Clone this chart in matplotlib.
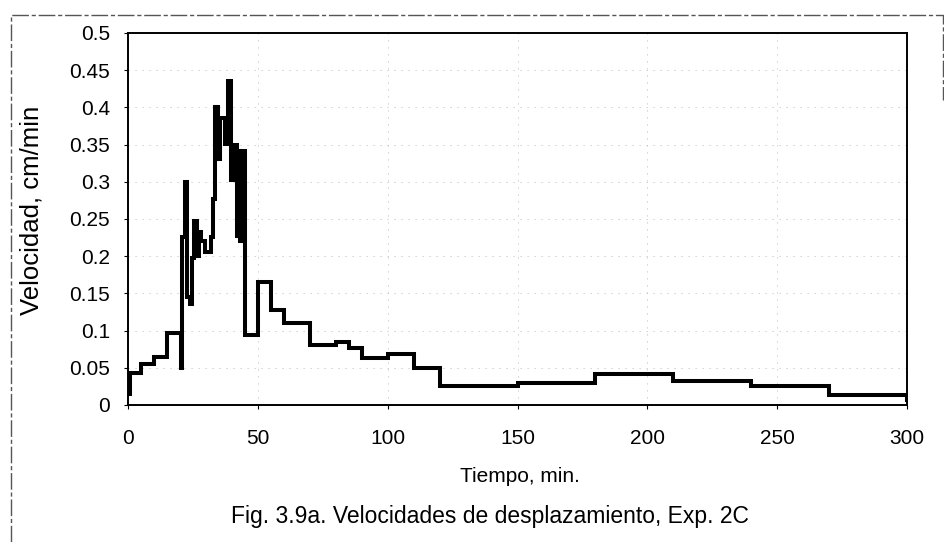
import matplotlib
matplotlib.use("Agg")
import matplotlib.pyplot as plt
from matplotlib.lines import Line2D

# Displacement velocity record, step-wise (value holds until the next time)
tiempo = [0, 0.7, 5, 10, 15, 20.3, 20.8, 21.8, 22.8, 23.8, 24.7, 25.6, 26.4,
          27.3, 28.3, 29.5, 31.8, 32.6, 33.4, 33.9, 34.3, 34.8, 35.3, 37.3,
          38.5, 39.5, 41.0, 42.0, 42.5, 43.3, 44.0, 45.0, 50, 55, 60, 70, 80,
          85, 90, 100, 110, 120, 150, 180, 210, 240, 270, 300]
velocidad = [0.015, 0.043, 0.055, 0.065, 0.097, 0.05, 0.226, 0.30, 0.145,
             0.136, 0.197, 0.247, 0.20, 0.232, 0.22, 0.205, 0.226, 0.277,
             0.40, 0.33, 0.40, 0.33, 0.386, 0.351, 0.435, 0.302, 0.349, 0.227,
             0.342, 0.22, 0.342, 0.094, 0.165, 0.128, 0.110, 0.080, 0.085,
             0.077, 0.063, 0.068, 0.050, 0.025, 0.030, 0.041, 0.032, 0.026,
             0.014, 0.007]

x_ticks = [0, 50, 100, 150, 200, 250, 300]
y_ticks = [0, 0.05, 0.1, 0.15, 0.2, 0.25, 0.3, 0.35, 0.4, 0.45, 0.5]
y_ticklabels = ["0", "0.05", "0.1", "0.15", "0.2", "0.25", "0.3", "0.35",
                "0.4", "0.45", "0.5"]

plt.rcParams["font.family"] = ["Liberation Sans", "DejaVu Sans"]

W, H = 944, 542
fig = plt.figure(figsize=(W / 100, H / 100), dpi=100)
fig.patch.set_facecolor("white")

ax = fig.add_axes([128 / W, 1 - 405 / H, (907 - 128) / W, (405 - 33) / H])
ax.step(tiempo, velocidad, where="post", color="black", lw=2.9,
        solid_joinstyle="miter", zorder=3)

ax.set_xlim(0, 300)
ax.set_ylim(0, 0.5)
ax.set_xticks(x_ticks)
ax.set_xticklabels([str(v) for v in x_ticks])
ax.set_yticks(y_ticks)
ax.set_yticklabels(y_ticklabels)
ax.tick_params(axis="both", direction="out", length=3, width=0.8,
               labelsize=15, colors="black")
ax.tick_params(axis="y", pad=10)
ax.tick_params(axis="x", pad=14)

ax.grid(True, color="#c4c4c4", linestyle=(0, (1.2, 6)), linewidth=0.7)
for s in ax.spines.values():
    s.set_linewidth(1.4)
    s.set_color("black")

fig.text(31 / W, 1 - 210 / H, "Velocidad, cm/min", rotation=90,
         ha="center", va="center", fontsize=18.5)
fig.text(520 / W, 1 - 476 / H, "Tiempo, min.", ha="center", va="center",
         fontsize=15)
fig.text(490 / W, 1 - 523 / H, "Fig. 3.9a. Velocidades de desplazamiento, Exp. 2C",
         ha="center", va="baseline", fontsize=16.5)

# outer chart border
border = Line2D([11 / W, 11 / W, 943 / W, 943 / W],
                [0, 1 - 14.5 / H, 1 - 14.5 / H, 1 - 100 / H],
                transform=fig.transFigure, color="#555555", lw=1.0,
                linestyle=(0, (12, 2, 3, 2)))
fig.add_artist(border)

fig.savefig("out.png", dpi=100)
